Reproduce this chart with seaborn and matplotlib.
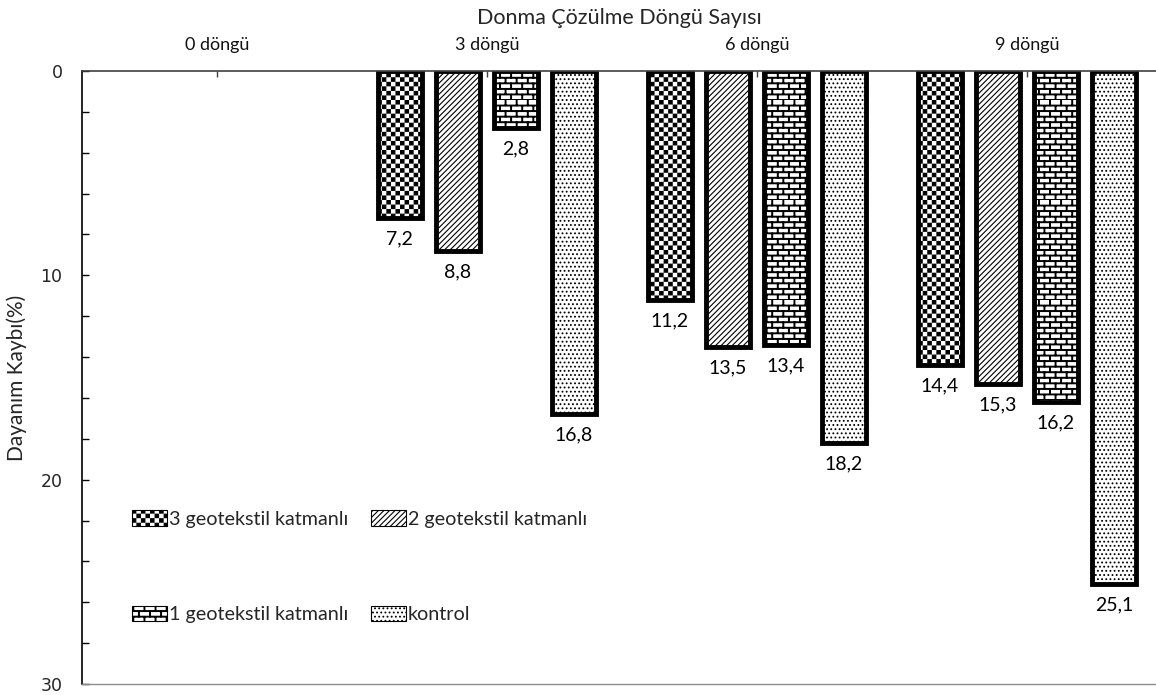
import numpy as np
import pandas as pd
import matplotlib
matplotlib.use("Agg")
import matplotlib.pyplot as plt
import matplotlib.hatch as mhatch
import matplotlib.patches as mpatches
from matplotlib.path import Path
from matplotlib.ticker import MultipleLocator
import seaborn as sns

# ---- data -------------------------------------------------------------
cycles = ["0 döngü", "3 döngü", "6 döngü", "9 döngü"]
groups = ["3 geotekstil katmanlı", "2 geotekstil katmanlı",
          "1 geotekstil katmanlı", "kontrol"]
loss_3_layer = [np.nan, 7.2, 11.2, 14.4]
loss_2_layer = [np.nan, 8.8, 13.5, 15.3]
loss_1_layer = [np.nan, 2.8, 13.4, 16.2]
loss_control = [np.nan, 16.8, 18.2, 25.1]

y_ticks = [0, 10, 20, 30]


# ---- extra hatch patterns: checkerboard ('O') and brick wall ('o') ----
def _rect(x0, y0, x1, y1):
    return [(x0, y0), (x1, y0), (x1, y1), (x0, y1), (x0, y0)]


_RECT_CODES = [Path.MOVETO, Path.LINETO, Path.LINETO, Path.LINETO, Path.CLOSEPOLY]


class CheckerHatch(mhatch.HatchPatternBase):
    cells = 22

    def __init__(self, hatch, density):
        self.on = hatch.count("O") > 0
        n = self.cells
        self.num_vertices = (n * n // 2) * 5 if self.on else 0

    def set_vertices_and_codes(self, vertices, codes):
        n = self.cells
        s = 1.0 / n
        inset = 0.0055
        k = 0
        for i in range(n):
            for j in range(n):
                if (i + j) % 2:
                    continue
                vertices[k:k + 5] = _rect(i * s + inset, j * s + inset,
                                          (i + 1) * s - inset, (j + 1) * s - inset)
                codes[k:k + 5] = _RECT_CODES
                k += 5


class BrickHatch(mhatch.HatchPatternBase):
    rows = 18
    bricks = 9

    def __init__(self, hatch, density):
        self.on = hatch.count("o") > 0
        n_rect = self.rows * (1 + self.bricks + 1)
        self.num_vertices = n_rect * 5 if self.on else 0

    def set_vertices_and_codes(self, vertices, codes):
        h = 1.0 / self.rows
        w = 1.0 / self.bricks
        t = 0.004
        rects = []
        for r in range(self.rows):
            yb = r * h
            rects.append((0.0, yb - t, 1.0, yb + t))
            shift = 0.0 if r % 2 == 0 else w / 2
            for b in range(self.bricks + 1):
                xv = b * w + shift
                rects.append((xv - t, yb, xv + t, yb + h))
        k = 0
        for (x0, y0, x1, y1) in rects:
            vertices[k:k + 5] = _rect(x0, y0, x1, y1)
            codes[k:k + 5] = _RECT_CODES
            k += 5


_base = [t for t in mhatch._hatch_types
         if t not in (mhatch.SmallCircles, mhatch.LargeCircles)]
mhatch._hatch_types = _base + [CheckerHatch, BrickHatch]

hatches = ["O", "//////", "o", "...."]

# ---- style ------------------------------------------------------------
sns.set_theme(style="white")
plt.rcParams["font.family"] = ["Lato", "DejaVu Sans"]
plt.rcParams["hatch.linewidth"] = 0.8
plt.rcParams["hatch.color"] = "black"

df = pd.DataFrame({
    "cycle": cycles * 4,
    "group": np.repeat(groups, len(cycles)),
    "loss": loss_3_layer + loss_2_layer + loss_1_layer + loss_control,
})

fig = plt.figure(figsize=(11.56, 6.95), dpi=100)
ax = fig.add_axes([0.0709, 0.0158, 0.9291, 0.882])

sns.barplot(data=df, x="cycle", y="loss", hue="group", order=cycles,
            hue_order=groups, palette=["white"] * 4, saturation=1,
            edgecolor="black", linewidth=3.5, width=0.86, gap=0.25,
            errorbar=None, legend=False, ax=ax)

# inverted value axis: 0 at the top, loss grows downward
ax.set_ylim(30, 0)
ax.set_xlim(-0.5, 3.478)

for cont, hatch in zip(ax.containers, hatches):
    for bar in cont:
        bar.set_hatch(hatch)
    ax.bar_label(cont, labels=[("" if np.isnan(v) else f"{v:.1f}".replace(".", ","))
                               for v in cont.datavalues],
                 padding=9, fontsize=14, color="black")

ax.yaxis.set_major_locator(MultipleLocator(10))
ax.yaxis.set_minor_locator(MultipleLocator(2))
ax.set_yticks(y_ticks)
ax.set_yticklabels([str(v) for v in y_ticks], family="DejaVu Sans", fontsize=12.5)
ax.tick_params(axis="y", which="both", direction="in", length=5, width=1,
               color="black", pad=14, left=True)

ax.xaxis.tick_top()
ax.xaxis.set_label_position("top")
ax.tick_params(axis="x", direction="in", length=4, width=1, color="#404040",
               pad=13, labelsize=13, labelcolor="#111111", top=True, bottom=False)
ax.set_xlabel("Donma Çözülme Döngü Sayısı", fontsize=15.5, labelpad=9)
ax.set_ylabel("Dayanım Kaybı(%)", fontsize=15)
ax.yaxis.set_label_coords(-0.051, 0.5)

ax.spines["left"].set_color("black")
ax.spines["left"].set_linewidth(1.2)
ax.spines["top"].set_color("#404040")
ax.spines["top"].set_linewidth(1.2)
ax.spines["bottom"].set_color("#8c8c8c")
ax.spines["bottom"].set_linewidth(1.0)
ax.spines["right"].set_visible(False)

# legend laid out row by row: (3, 2) on the first row, (1, kontrol) on the second
handles = [mpatches.Patch(facecolor="white", edgecolor="black", linewidth=0.8,
                          hatch=h, label=g) for g, h in zip(groups, hatches)]
order = [0, 2, 1, 3]
ax.legend(handles=[handles[i] for i in order], ncol=2, loc="upper left",
          bbox_to_anchor=(0.0466, 0.284), frameon=False, fontsize=14.2,
          handlelength=1.78, handleheight=0.86, handletextpad=0.1,
          columnspacing=1.15, labelspacing=3.95, borderpad=0, borderaxespad=0)

fig.savefig("out.png", dpi=100)
